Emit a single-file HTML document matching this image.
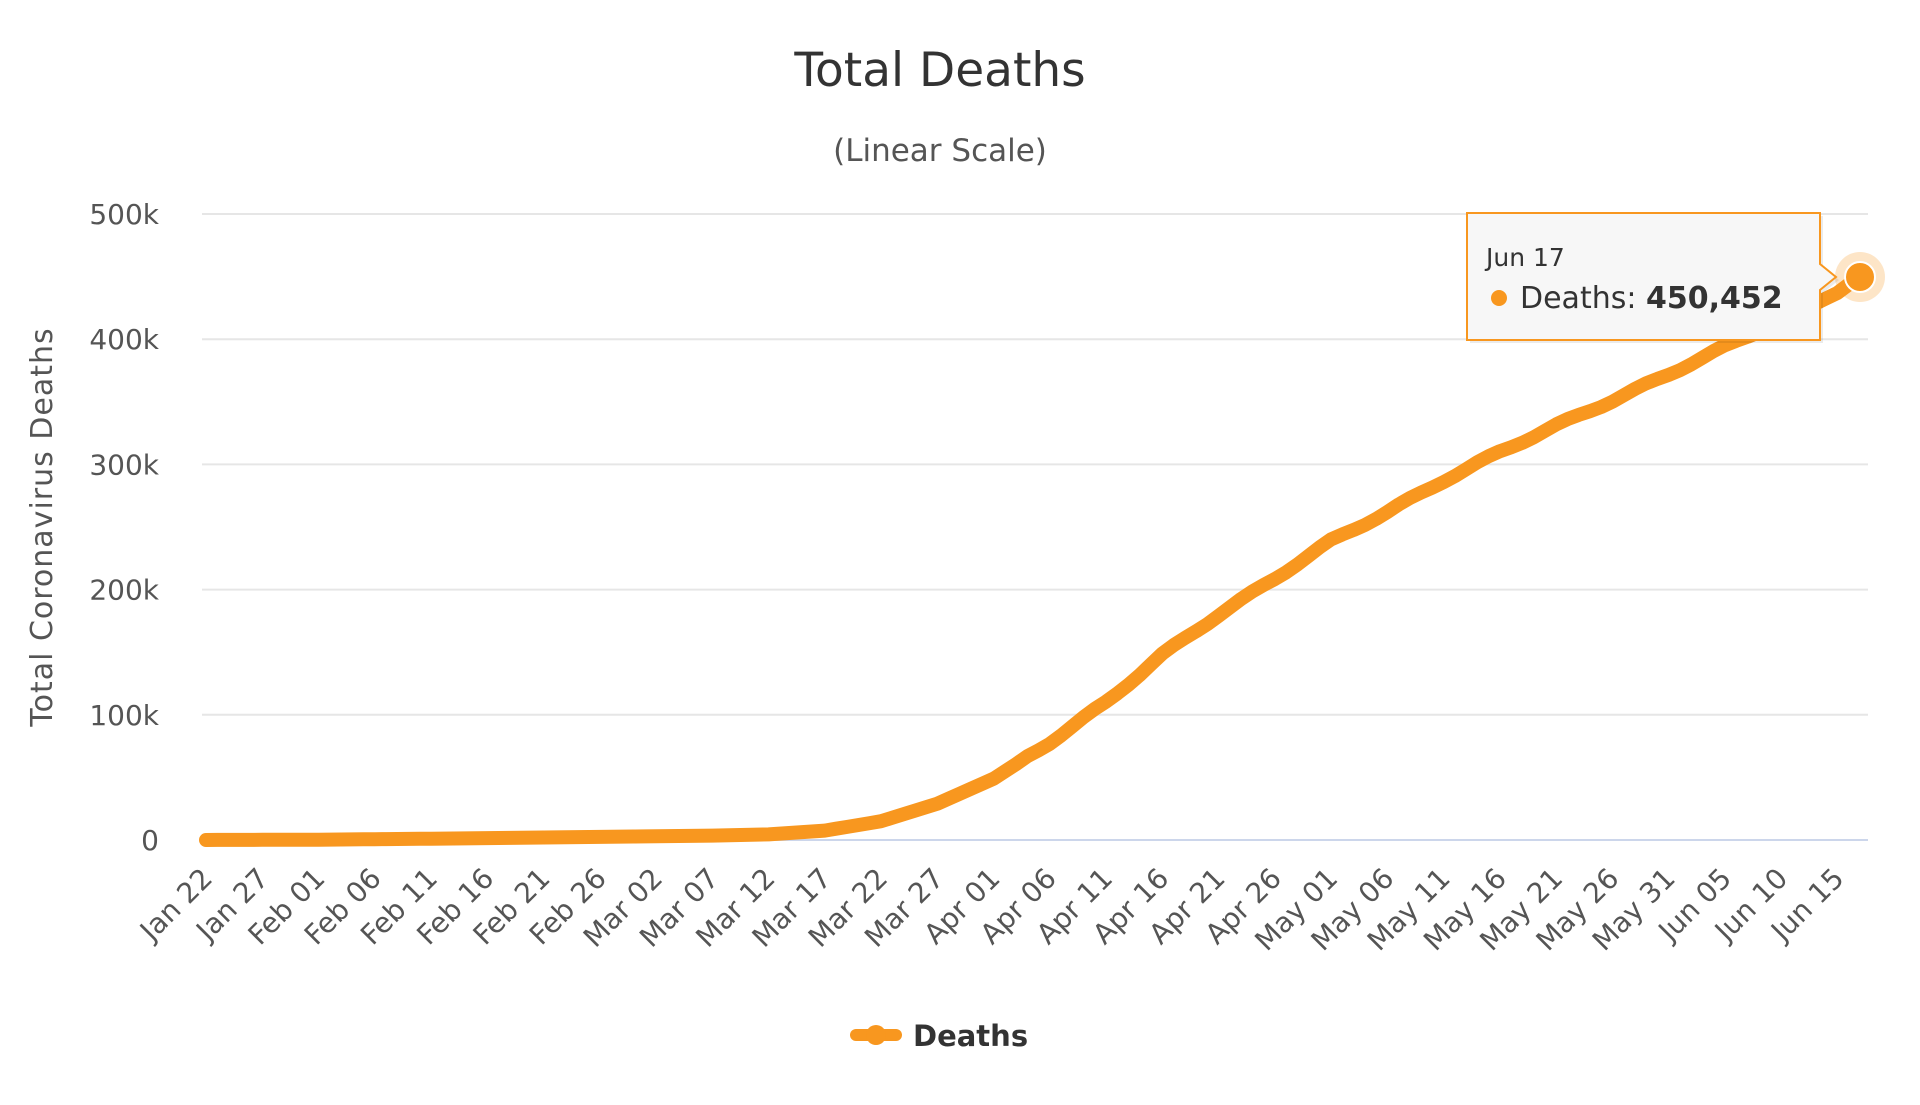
<!DOCTYPE html>
<html><head><meta charset="utf-8"><style>
body{margin:0;background:#fff;}
svg text{font-family:"DejaVu Sans","Liberation Sans",sans-serif;}
</style></head><body>
<svg id="c" width="1920" height="1100" viewBox="0 0 1920 1100" xmlns="http://www.w3.org/2000/svg">
<rect width="1920" height="1100" fill="#fff"/>
<text x="940" y="86" text-anchor="middle" font-size="47" fill="#333">Total Deaths</text>
<text x="940" y="161" text-anchor="middle" font-size="31" fill="#555">(Linear Scale)</text>
<g id="grid" stroke="#e6e6e6" stroke-width="2"></g>
<line x1="202" y1="840" x2="1868" y2="840" stroke="#ccd6eb" stroke-width="2"/>
<g id="ylab" font-size="28" fill="#555" text-anchor="end"></g>
<text transform="translate(52,527) rotate(-90)" text-anchor="middle" font-size="30" fill="#555" letter-spacing="1">Total Coronavirus Deaths</text>
<g id="xlab" font-size="28" fill="#555" text-anchor="end"></g>
<path id="line" fill="none" stroke="#f8971f" stroke-width="14" stroke-linejoin="round" stroke-linecap="round"/>
<circle cx="1860" cy="277" r="25" fill="#f8971f" opacity="0.25"/>
<circle cx="1860" cy="277" r="15" fill="#f8971f" stroke="#fff" stroke-width="2"/>
<path d="M1470 216 H1823 V267 L1839 280 L1823 293 V343 H1470 Z" fill="#000" opacity="0.08"/>
<path d="M1467 213 H1820 V264 L1836 277 L1820 290 V340 H1467 Z" fill="#f7f7f7" stroke="#f8971f" stroke-width="2"/>
<text x="1486" y="266" font-size="25" fill="#333">Jun 17</text>
<circle cx="1499" cy="298" r="8" fill="#f8971f"/>
<text x="1520" y="308" font-size="30" fill="#333">Deaths: <tspan font-weight="bold">450,452</tspan></text>
<line x1="856" y1="1035" x2="896" y2="1035" stroke="#f8971f" stroke-width="12" stroke-linecap="round"/>
<circle cx="876" cy="1035" r="10" fill="#f8971f"/>
<text x="913" y="1046" font-size="29" font-weight="bold" fill="#333">Deaths</text>
</svg>
<script>
var ns="http://www.w3.org/2000/svg";
function Y(v){return 840-v/500000*626;}
var g=document.getElementById('grid'),yl=document.getElementById('ylab');
for(var i=1;i<=5;i++){var l=document.createElementNS(ns,'line');l.setAttribute('x1',202);l.setAttribute('x2',1868);l.setAttribute('y1',Y(i*1e5));l.setAttribute('y2',Y(i*1e5));g.appendChild(l);}
for(var i=0;i<=5;i++){var t=document.createElementNS(ns,'text');t.setAttribute('x',159);t.setAttribute('y',Y(i*1e5)+10);t.textContent=i==0?'0':(i*100)+'k';yl.appendChild(t);}
var x0=206,x1=1860,N=147;function X(d){return x0+d*(x1-x0)/N;}
var m=['Jan 22','Jan 27','Feb 01','Feb 06','Feb 11','Feb 16','Feb 21','Feb 26','Mar 02','Mar 07','Mar 12','Mar 17','Mar 22','Mar 27','Apr 01','Apr 06','Apr 11','Apr 16','Apr 21','Apr 26','May 01','May 06','May 11','May 16','May 21','May 26','May 31','Jun 05','Jun 10','Jun 15'];
var xl=document.getElementById('xlab');
m.forEach(function(s,i){var t=document.createElementNS(ns,'text');var x=X(i*5)+8,y=880;t.setAttribute('transform','translate('+x+','+y+') rotate(-45)');t.textContent=s;xl.appendChild(t);});
var k=[[0,17],[10,260],[20,1000],[30,2000],[40,3000],[45,3500],[50,4500],[55,7500],[60,15000],[65,29000],[70,49000],[75,78000],[80,110000],[85,148000],[90,180000],[95,209000],[100,239000],[105,262000],[110,287000],[115,310000],[120,331000],[125,351000],[130,372000],[135,394000],[140,415000],[145,437000],[147,450452]];
var pts=[];
for(var d=0;d<=147;d++){for(var j=0;j<k.length-1;j++){if(d<=k[j+1][0]){var a=k[j],b=k[j+1],f=(d-a[0])/(b[0]-a[0]);var v=a[1]+f*(b[1]-a[1]);if(d>72&&d<143)v+=1200*Math.sin(d*2*Math.PI/7);pts.push([X(d),Y(v)]);break;}}}
document.getElementById('line').setAttribute('d','M'+pts.map(function(p){return p[0].toFixed(1)+' '+p[1].toFixed(1)}).join(' L'));
</script>
</body></html>
